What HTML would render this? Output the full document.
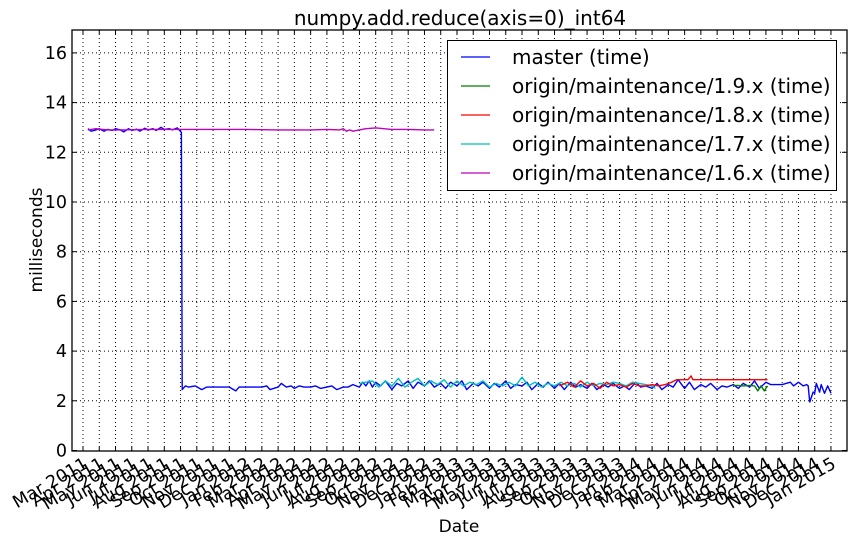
<!DOCTYPE html>
<html><head><meta charset="utf-8">
<style>
html,body{margin:0;padding:0;background:#fff;}
svg{display:block;font-family:"DejaVu Sans","Liberation Sans",sans-serif;}
</style></head>
<body>
<svg id="chart" width="858" height="542" viewBox="0 0 858 542" xmlns="http://www.w3.org/2000/svg">
<rect x="0" y="0" width="858" height="542" fill="#fff"/>
<text x="460" y="25" font-size="20" text-anchor="middle">numpy.add.reduce(axis=0)_int64</text>
<text x="459" y="532" font-size="17" text-anchor="middle">Date</text>
<text x="0" y="0" font-size="17" text-anchor="middle" transform="translate(42,240) rotate(-90)">milliseconds</text>
<g id="grid"></g>
<g id="series"></g>
<rect x="72" y="30" width="775" height="421" fill="none" stroke="#000" stroke-width="1.3"/>
<g id="axes"></g>
<g id="legend">
<rect x="447.5" y="40.5" width="389" height="150" fill="#fff" stroke="#000" stroke-width="1"/>
</g>
</svg>
<script>
// ---- data (month index since Mar 2011) ----
const monthLabels = ["Mar 2011","Apr 2011","May 2011","Jun 2011","Jul 2011","Aug 2011","Sep 2011","Oct 2011","Nov 2011","Dec 2011","Jan 2012","Feb 2012","Mar 2012","Apr 2012","May 2012","Jun 2012","Jul 2012","Aug 2012","Sep 2012","Oct 2012","Nov 2012","Dec 2012","Jan 2013","Feb 2013","Mar 2013","Apr 2013","May 2013","Jun 2013","Jul 2013","Aug 2013","Sep 2013","Oct 2013","Nov 2013","Dec 2013","Jan 2014","Feb 2014","Mar 2014","Apr 2014","May 2014","Jun 2014","Jul 2014","Aug 2014","Sep 2014","Oct 2014","Nov 2014","Dec 2014","Jan 2015"];
const yTicks = [0,2,4,6,8,10,12,14,16];
const seriesNames = ["master (time)","origin/maintenance/1.9.x (time)","origin/maintenance/1.8.x (time)","origin/maintenance/1.7.x (time)","origin/maintenance/1.6.x (time)"];
const seriesColors = ["#0000ff","#007f00","#ff0000","#00bfbf","#bf00bf"];

const masterDates = [0.3,0.5,0.8,1.0,1.3,1.5,1.8,2.0,2.3,2.5,2.8,3.0,3.3,3.5,3.8,4.0,4.3,4.5,4.8,5.0,5.3,5.5,5.8,6.05,6.1,6.3,6.5,6.9,7.3,7.6,8.0,8.5,9.0,9.4,9.6,10.0,10.5,11.0,11.3,11.5,12.0,12.2,12.5,12.8,13.0,13.3,13.6,14.0,14.3,14.6,15.0,15.3,15.6,16.0,16.3,16.6,17.0,17.2,17.4,17.6,17.8,18.0,18.3,18.6,19.0,19.3,19.6,20.0,20.3,20.6,21.0,21.3,21.6,22.0,22.3,22.6,23.0,23.3,23.6,24.0,24.3,24.6,25.0,25.3,25.6,26.0,26.3,26.6,27.0,27.3,27.6,28.0,28.3,28.6,29.0,29.3,29.6,30.0,30.3,30.6,31.0,31.3,31.6,32.0,32.3,32.6,33.0,33.3,33.6,34.0,34.3,34.6,35.0,35.3,35.6,36.0,36.3,36.6,37.0,37.3,37.6,38.0,38.3,38.6,39.0,39.3,39.6,40.0,40.3,40.6,41.0,41.3,41.6,42.0,42.3,43.0,43.5,43.7,44.0,44.3,44.5,44.6,44.65,44.7,44.9,45.0,45.1,45.3,45.4,45.6,45.8,46.0];
const masterValues = [12.95,12.85,12.9,12.95,12.85,12.92,12.88,12.95,12.9,12.82,12.95,12.88,12.93,12.85,12.97,12.9,12.95,12.88,13.0,12.92,12.95,12.9,12.98,12.8,2.45,2.6,2.55,2.6,2.45,2.55,2.55,2.55,2.55,2.4,2.55,2.55,2.55,2.55,2.6,2.45,2.55,2.7,2.55,2.6,2.5,2.6,2.55,2.55,2.6,2.5,2.55,2.6,2.45,2.55,2.55,2.65,2.55,2.75,2.6,2.8,2.55,2.75,2.6,2.8,2.45,2.7,2.6,2.8,2.5,2.75,2.6,2.8,2.55,2.7,2.5,2.75,2.6,2.8,2.45,2.7,2.6,2.75,2.5,2.7,2.55,2.8,2.5,2.65,2.6,2.75,2.45,2.7,2.55,2.75,2.5,2.7,2.45,2.75,2.55,2.65,2.5,2.7,2.45,2.65,2.55,2.7,2.5,2.6,2.45,2.75,2.55,2.6,2.5,2.7,2.45,2.65,2.55,2.85,2.5,2.75,2.45,2.65,2.55,2.7,2.45,2.6,2.55,2.65,2.5,2.7,2.55,2.8,2.5,2.75,2.65,2.65,2.75,2.6,2.75,2.6,2.65,2.6,2.25,1.95,2.35,2.3,2.7,2.35,2.65,2.3,2.6,2.3,2.45];

const v19Dates = [40.0,40.3,40.6,41.0,41.3,41.5,41.7,41.9,42.1];
const v19Values = [2.62,2.62,2.6,2.62,2.6,2.4,2.6,2.4,2.6];

const v18Dates = [29.3,29.8,30.2,30.6,31.0,31.4,31.8,32.2,32.6,33.0,33.4,33.8,34.2,34.6,35.0,35.4,35.8,36.2,36.5,36.8,37.2,37.4,37.5,37.8,38.5,39.5,40.5,41.5,42.1];
const v18Values = [2.6,2.75,2.55,2.8,2.6,2.7,2.5,2.75,2.6,2.65,2.55,2.7,2.6,2.6,2.65,2.6,2.65,2.75,2.85,2.85,2.85,3.0,2.85,2.85,2.85,2.85,2.85,2.85,2.85];

const v17Dates = [17.0,17.4,17.8,18.2,18.6,19.0,19.4,19.8,20.2,20.6,21.0,21.4,21.8,22.2,22.6,23.0,23.4,23.8,24.2,24.6,25.0,25.4,25.8,26.2,26.6,27.0,27.4,27.8,28.2,28.6,29.0,29.4,29.8,30.2,30.6,31.0,31.4,31.8,32.2,32.6,33.0,33.4,33.8,34.2,34.6,35.0,35.2];
const v17Values = [2.7,2.75,2.8,2.55,2.8,2.6,2.9,2.55,2.75,2.9,2.6,2.8,2.65,2.85,2.55,2.8,2.6,2.75,2.65,2.8,2.55,2.7,2.6,2.75,2.6,2.95,2.6,2.75,2.55,2.7,2.6,2.75,2.6,2.7,2.55,2.75,2.6,2.7,2.65,2.75,2.7,2.6,2.75,2.7,2.65,2.6,2.5];

const v16Dates = [0.3,0.8,1.5,2.5,4.0,6.0,8.0,10.0,12.0,14.0,15.0,15.8,16.0,16.2,16.4,16.6,17.0,17.4,18.0,19.0,20.0,21.0,21.6];
const v16Values = [12.9,12.95,12.9,12.9,12.92,12.92,12.92,12.92,12.9,12.9,12.92,12.9,12.95,12.85,12.9,12.85,12.9,12.95,12.98,12.92,12.92,12.9,12.9];

// ---- axes functions ----
const X0 = 83, XM = 16.26;
const Y0 = 450.5, YS = 24.85;
function xs(m){ return X0 + m*XM; }
function ys(v){ return Y0 - v*YS; }
const NS = "http://www.w3.org/2000/svg";
function mk(tag, attrs, parent){
  const e = document.createElementNS(NS, tag);
  for (const k in attrs) e.setAttribute(k, attrs[k]);
  parent.appendChild(e); return e;
}
const grid = document.getElementById('grid');
const axes = document.getElementById('axes');
const ser = document.getElementById('series');
const leg = document.getElementById('legend');

monthLabels.forEach((lab,i)=>{
  const x = xs(i);
  const g = mk('line',{x1:x,x2:x,y1:30,y2:451,stroke:'#000','stroke-width':1,'stroke-dasharray':'1,3'},grid);
  
  
  const t1 = mk('line',{x1:x,x2:x,y1:451,y2:447,stroke:'#000','stroke-width':1},axes);
  
  
  const t2 = mk('line',{x1:x,x2:x,y1:30,y2:34,stroke:'#000','stroke-width':1},axes);
  
  
  const tx = mk('text',{x:0,y:0,'font-size':17.5,'text-anchor':'end',transform:'translate('+(x+6)+',467) rotate(-30)'},axes);
  tx.textContent = lab;
  
  
});
yTicks.forEach(v=>{
  const y = ys(v);
  if (v>0){
    const g = mk('line',{x1:72,x2:847,y1:y,y2:y,stroke:'#000','stroke-width':1,'stroke-dasharray':'1,3'},grid);
    
    
  }
  const t1 = mk('line',{x1:72,x2:77,y1:y,y2:y,stroke:'#000','stroke-width':1},axes);
  
  
  const t2 = mk('line',{x1:842,x2:847,y1:y,y2:y,stroke:'#000','stroke-width':1},axes);
  
  
  const tx = mk('text',{x:67,y:y+6,'font-size':17.5,'text-anchor':'end'},axes);
  tx.textContent = v;
  
  
});

function drawLine(dates, vals, color, name){
  const pts = dates.map((d,i)=>xs(d).toFixed(1)+','+ys(vals[i]).toFixed(1)).join(' ');
  const p = mk('polyline',{points:pts,fill:'none',stroke:color,'stroke-width':1.4,'stroke-linejoin':'round'},ser);
  
  
}
drawLine(masterDates, masterValues, seriesColors[0], 'master-line');
drawLine(v16Dates, v16Values, seriesColors[4], 'maintenance-1-6-line');
drawLine(v17Dates, v17Values, seriesColors[3], 'maintenance-1-7-line');
drawLine(v18Dates, v18Values, seriesColors[2], 'maintenance-1-8-line');
drawLine(v19Dates, v19Values, seriesColors[1], 'maintenance-1-9-line');

seriesNames.forEach((n,i)=>{
  const y = 57 + i*29;
  const l = mk('line',{x1:461,x2:490,y1:y,y2:y,stroke:seriesColors[i],'stroke-width':1.2},leg);
  
  
  const t = mk('text',{x:512,y:y+7,'font-size':20},leg);
  t.textContent = n;
  
  
});
</script>
</body></html>
